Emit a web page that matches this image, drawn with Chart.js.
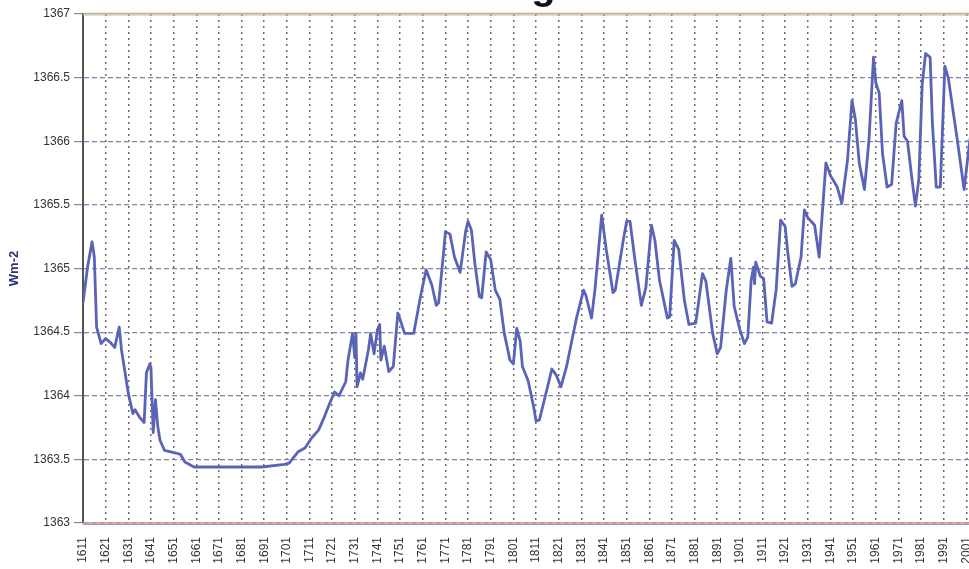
<!DOCTYPE html>
<html>
<head>
<meta charset="utf-8">
<script src="https://cdn.jsdelivr.net/npm/chart.js@4/dist/chart.umd.min.js"></script>
<style>
  html, body { margin: 0; padding: 0; background: #fff; overflow: hidden; width: 969px; height: 569px; }
  #wrap { position: absolute; left: 0; top: -35px; width: 995px; height: 604px; }
</style>
</head>
<body>
<div id="wrap"><canvas id="c" width="995" height="604"></canvas></div>
<script>
// Reconstructed total solar irradiance (W m-2), year -> value
const years = [
  1611, 1613, 1615, 1616, 1617, 1619, 1621, 1623, 1625, 1627, 1628, 1631, 1633, 1634, 1636, 1638,
  1639, 1640.5, 1641, 1642, 1643, 1644, 1645, 1647, 1652, 1654, 1656, 1660, 1690, 1700, 1702, 1706,
  1709, 1712, 1715, 1717, 1719, 1722, 1724, 1727, 1728, 1730, 1731, 1731.5, 1732, 1733.5, 1734.5, 1737,
  1738, 1739.5, 1741, 1742, 1742.5, 1744, 1746, 1748, 1750, 1751, 1753, 1757, 1760, 1762.5, 1765, 1767,
  1768, 1770, 1771, 1773, 1775, 1777.5, 1780, 1781, 1782.5, 1784, 1786, 1787, 1789, 1791, 1793, 1795,
  1797, 1799.5, 1801, 1802.5, 1804, 1805, 1807.5, 1810, 1811, 1812.5, 1815, 1818, 1820, 1822, 1824.5, 1827,
  1829, 1832, 1833, 1835.5, 1837, 1840, 1842, 1845, 1846, 1849.5, 1851, 1852.5, 1854.5, 1857.5, 1859.5, 1862,
  1863.5, 1865.5, 1869, 1870, 1872, 1874, 1876.5, 1878.5, 1881.5, 1884.5, 1886, 1889, 1891, 1892.5, 1895, 1897,
  1898.5, 1901, 1903, 1904.5, 1906, 1907, 1907.5, 1908, 1910, 1911.5, 1913, 1915, 1917, 1919, 1921, 1922,
  1924, 1925.5, 1928, 1929.5, 1931, 1934, 1936, 1939, 1941, 1944, 1946, 1948.5, 1950.5, 1952, 1953.7, 1956,
  1958, 1960, 1961, 1962.5, 1964, 1966, 1968, 1970, 1972.5, 1973.5, 1975, 1977, 1978.5, 1980, 1981.5, 1983,
  1985, 1986, 1987.7, 1989.5, 1991.5, 1993, 1997, 2000, 2002, 2004, 2006, 2008
];
const tsi = [
  1364.73, 1365.01, 1365.21, 1365.09, 1364.54, 1364.41, 1364.45, 1364.42, 1364.38, 1364.54, 1364.36, 1364.02, 1363.86, 1363.89, 1363.83, 1363.79,
  1364.18, 1364.25, 1364.22, 1363.71, 1363.97, 1363.76, 1363.65, 1363.57, 1363.55, 1363.54, 1363.48, 1363.44, 1363.44, 1363.46, 1363.47, 1363.56,
  1363.59, 1363.67, 1363.73, 1363.81, 1363.90, 1364.03, 1364.00, 1364.11, 1364.28, 1364.49, 1364.30, 1364.49, 1364.07, 1364.18, 1364.13, 1364.36,
  1364.49, 1364.33, 1364.52, 1364.56, 1364.28, 1364.39, 1364.19, 1364.23, 1364.65, 1364.60, 1364.49, 1364.49, 1364.78, 1364.99, 1364.87, 1364.71,
  1364.73, 1365.09, 1365.29, 1365.27, 1365.09, 1364.97, 1365.30, 1365.37, 1365.30, 1365.04, 1364.78, 1364.77, 1365.13, 1365.07, 1364.83, 1364.76,
  1364.49, 1364.28, 1364.25, 1364.53, 1364.43, 1364.23, 1364.12, 1363.91, 1363.80, 1363.81, 1363.99, 1364.21, 1364.16, 1364.07, 1364.23, 1364.45,
  1364.62, 1364.83, 1364.79, 1364.61, 1364.83, 1365.42, 1365.15, 1364.81, 1364.83, 1365.22, 1365.37, 1365.37, 1365.09, 1364.71, 1364.85, 1365.34,
  1365.22, 1364.91, 1364.61, 1364.62, 1365.22, 1365.15, 1364.75, 1364.56, 1364.57, 1364.96, 1364.90, 1364.49, 1364.33, 1364.38, 1364.83, 1365.08,
  1364.70, 1364.52, 1364.41, 1364.46, 1364.91, 1365.01, 1364.88, 1365.05, 1364.94, 1364.92, 1364.58, 1364.57, 1364.83, 1365.38, 1365.33, 1365.15,
  1364.86, 1364.88, 1365.09, 1365.46, 1365.40, 1365.34, 1365.09, 1365.83, 1365.73, 1365.64, 1365.51, 1365.85, 1366.32, 1366.17, 1365.83, 1365.62,
  1366.01, 1366.66, 1366.46, 1366.38, 1365.90, 1365.64, 1365.66, 1366.14, 1366.32, 1366.04, 1366.00, 1365.70, 1365.49, 1365.70, 1366.45, 1366.69,
  1366.66, 1366.14, 1365.64, 1365.64, 1366.59, 1366.50, 1366.01, 1365.62, 1365.93, 1366.20, 1366.40, 1366.50
];
// Decade tick labels along the bottom axis
const tickYears = [
  1611, 1621, 1631, 1641, 1651, 1661, 1671, 1681, 1691, 1701,
  1711, 1721, 1731, 1741, 1751, 1761, 1771, 1781, 1791, 1801,
  1811, 1821, 1831, 1841, 1851, 1861, 1871, 1881, 1891, 1901,
  1911, 1921, 1931, 1941, 1951, 1961, 1971, 1981, 1991, 2001
];
const yTickValues = [1363, 1363.5, 1364, 1364.5, 1365, 1365.5, 1366, 1366.5, 1367];

const FONT = "'Liberation Sans', Arial, sans-serif";

// Plot frame: the top edge and the bottom axis line
const framePlugin = {
  id: 'frame',
  beforeDatasetsDraw(chart) {
    const { ctx, chartArea: a } = chart;
    const line = (y, color, w) => {
      ctx.strokeStyle = color;
      ctx.lineWidth = w;
      ctx.beginPath();
      ctx.moveTo(a.left, y);
      ctx.lineTo(a.right, y);
      ctx.stroke();
    };
    ctx.save();
    ctx.setLineDash([]);
    line(a.top - 0.5, '#d9b552', 1.5);
    line(a.top + 1, '#a9bde0', 1);
    line(a.bottom, '#d49a78', 1.5);
    line(a.bottom + 1.5, '#8e96cc', 1.2);
    ctx.restore();
  }
};

new Chart(document.getElementById('c'), {
  type: 'line',
  data: {
    datasets: [{
      data: years.map((y, i) => ({ x: y, y: tsi[i] })),
      borderColor: '#5a63b6',
      borderWidth: 2.8,
      pointRadius: 0,
      tension: 0,
      fill: false,
      borderJoinStyle: 'round'
    }]
  },
  options: {
    responsive: false,
    animation: false,
    devicePixelRatio: 1,
    layout: { padding: { left: 0, right: 8, top: 0, bottom: 0 } },
    plugins: {
      legend: { display: false },
      tooltip: { enabled: false },
      title: {
        display: true,
        text: 'Total Solar Brightness Trend',
        fullSize: false,
        color: '#111',
        font: { family: FONT, size: 40, weight: 'bold', lineHeight: 1.15 },
        padding: { top: 0, bottom: 3 }
      }
    },
    scales: {
      x: {
        type: 'linear',
        min: 1611,
        max: 2008,
        afterBuildTicks: s => { s.ticks = tickYears.map(v => ({ value: v })); },
        afterFit: s => { s.height = 46; },
        ticks: {
          autoSkip: false,
          minRotation: 90,
          maxRotation: 90,
          padding: 14,
          color: '#333',
          font: { family: FONT, size: 12 },
          callback: v => String(v)
        },
        grid: { color: '#6b6b6b', lineWidth: 1.5, drawTicks: false },
        border: { display: false, dash: [2, 4] }
      },
      y: {
        min: 1363,
        max: 1367,
        afterBuildTicks: s => { s.ticks = yTickValues.map(v => ({ value: v })); },
        afterFit: s => { s.width = 83; },
        ticks: {
          padding: 4,
          color: '#333',
          font: { family: FONT, size: 12 },
          callback: v => String(v)
        },
        grid: { color: '#7f86ad', lineWidth: 1.2, tickLength: 9 },
        border: { display: true, color: '#555', width: 2, dash: [5, 3] },
        title: {
          display: true,
          text: 'Wm-2',
          color: '#2f3470',
          font: { family: FONT, size: 13, weight: 'bold' },
          padding: { top: 7, bottom: 0 }
        }
      }
    }
  },
  plugins: [framePlugin]
});
</script>
</body>
</html>
